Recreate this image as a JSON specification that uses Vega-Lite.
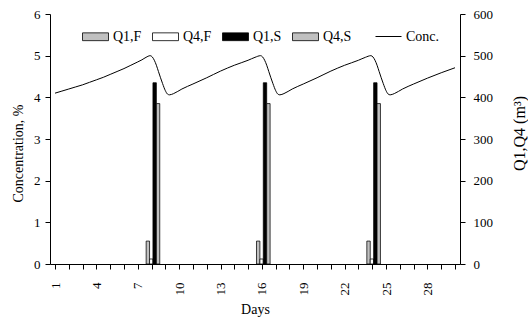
{
  "$schema": "https://vega.github.io/schema/vega-lite/v6.json",
  "width": 410,
  "height": 250,
  "autosize": {"type": "none"},
  "padding": {"left": 50, "top": 14, "right": 68, "bottom": 59},
  "background": "white",
  "config": {
    "font": "Liberation Serif",
    "view": {"stroke": null},
    "axis": {
      "domainColor": "black", "tickColor": "black", "labelColor": "black", "titleColor": "black",
      "labelFont": "Liberation Serif", "titleFont": "Liberation Serif",
      "labelFontSize": 13, "titleFontSize": 14, "titleFontWeight": "normal",
      "grid": false, "ticks": true, "tickSize": 5, "domainWidth": 1, "tickWidth": 1, "labelOverlap": false
    },
    "legend": {
      "labelFont": "Liberation Serif", "labelFontSize": 14, "labelColor": "black"
    }
  },
  "datasets": {
    "bars": [
      {"day": 8, "series": "Q1,F", "q": 55}, {"day": 8, "series": "Q4,F", "q": 12},
      {"day": 8, "series": "Q1,S", "q": 435}, {"day": 8, "series": "Q4,S", "q": 385},
      {"day": 16, "series": "Q1,F", "q": 55}, {"day": 16, "series": "Q4,F", "q": 12},
      {"day": 16, "series": "Q1,S", "q": 435}, {"day": 16, "series": "Q4,S", "q": 385},
      {"day": 24, "series": "Q1,F", "q": 55}, {"day": 24, "series": "Q4,F", "q": 12},
      {"day": 24, "series": "Q1,S", "q": 435}, {"day": 24, "series": "Q4,S", "q": 385}
    ]
  },
  "layer": [
    {
      "data": {"values": [
        {"day": 1, "conc": 4.10}, {"day": 1.5, "conc": 4.15}, {"day": 2, "conc": 4.20}, {"day": 2.5, "conc": 4.25},
        {"day": 3, "conc": 4.30}, {"day": 3.5, "conc": 4.36}, {"day": 4, "conc": 4.42}, {"day": 4.5, "conc": 4.48},
        {"day": 5, "conc": 4.55}, {"day": 5.5, "conc": 4.62}, {"day": 6, "conc": 4.69}, {"day": 6.5, "conc": 4.77},
        {"day": 7, "conc": 4.85}, {"day": 7.3, "conc": 4.90}, {"day": 7.6, "conc": 4.96}, {"day": 7.9, "conc": 5.00},
        {"day": 8.05, "conc": 4.97}, {"day": 8.2, "conc": 4.89}, {"day": 8.35, "conc": 4.77}, {"day": 8.5, "conc": 4.62},
        {"day": 8.65, "conc": 4.47}, {"day": 8.8, "conc": 4.33}, {"day": 9.0, "conc": 4.16}, {"day": 9.15, "conc": 4.08},
        {"day": 9.3, "conc": 4.06}, {"day": 9.6, "conc": 4.09}, {"day": 10.2, "conc": 4.20}, {"day": 11, "conc": 4.32},
        {"day": 12, "conc": 4.47}, {"day": 13, "conc": 4.63}, {"day": 14, "conc": 4.77}, {"day": 15, "conc": 4.89},
        {"day": 15.5, "conc": 4.96}, {"day": 15.9, "conc": 5.00},
        {"day": 16.05, "conc": 4.97}, {"day": 16.2, "conc": 4.89}, {"day": 16.35, "conc": 4.77}, {"day": 16.5, "conc": 4.62},
        {"day": 16.65, "conc": 4.47}, {"day": 16.8, "conc": 4.33}, {"day": 17.0, "conc": 4.16}, {"day": 17.15, "conc": 4.08},
        {"day": 17.3, "conc": 4.06}, {"day": 17.6, "conc": 4.09}, {"day": 18.2, "conc": 4.20}, {"day": 19, "conc": 4.32},
        {"day": 20, "conc": 4.47}, {"day": 21, "conc": 4.63}, {"day": 22, "conc": 4.77}, {"day": 23, "conc": 4.89},
        {"day": 23.5, "conc": 4.96}, {"day": 23.9, "conc": 5.00},
        {"day": 24.05, "conc": 4.97}, {"day": 24.2, "conc": 4.89}, {"day": 24.35, "conc": 4.77}, {"day": 24.5, "conc": 4.62},
        {"day": 24.65, "conc": 4.47}, {"day": 24.8, "conc": 4.33}, {"day": 25.0, "conc": 4.16}, {"day": 25.15, "conc": 4.08},
        {"day": 25.3, "conc": 4.06}, {"day": 25.6, "conc": 4.09}, {"day": 26.2, "conc": 4.20}, {"day": 27, "conc": 4.32},
        {"day": 28, "conc": 4.46}, {"day": 29, "conc": 4.59}, {"day": 30, "conc": 4.71}
      ]},
      "mark": {"type": "line", "strokeWidth": 1, "interpolate": "monotone"},
      "encoding": {
        "x": {
          "field": "day", "type": "quantitative",
          "scale": {"domain": [1, 30], "nice": false, "zero": false},
          "axis": {
            "values": [1,2,3,4,5,6,7,8,9,10,11,12,13,14,15,16,17,18,19,20,21,22,23,24,25,26,27,28,29,30],
            "labelExpr": "(datum.value - 1) % 3 === 0 ? datum.value : ''",
            "labelAngle": -90, "labelPadding": 13, "labelFlush": false, "labelOverlap": false,
            "title": "Days", "titlePadding": 7, "ticks": true,
            "encode": {"ticks": {"y2": {"value": -5}}}
          }
        },
        "y": {
          "field": "conc", "type": "quantitative",
          "scale": {"domain": [0, 6], "nice": false},
          "axis": {
            "orient": "left", "values": [0,1,2,3,4,5,6], "labelPadding": 5, "ticks": true, "tickSize": 5,
            "title": "Concentration, %", "titleX": -32, "titleY": 139, "titleAngle": -90,
            "titleAlign": "center", "titleBaseline": "middle", "titleFontSize": 14
          }
        },
        "stroke": {
          "datum": "Conc.", "type": "nominal",
          "scale": {"domain": ["Conc."], "range": ["#000000"]},
          "legend": {
            "title": null, "orient": "none", "legendX": 325, "legendY": 9,
            "direction": "horizontal", "symbolType": "stroke", "symbolSize": 676,
            "symbolStrokeWidth": 1, "labelOffset": 4
          }
        }
      }
    },
    {
      "data": {"name": "bars"},
      "encoding": {
        "x": {
          "field": "day", "type": "quantitative",
          "axis": {
            "values": [1,2,3,4,5,6,7,8,9,10,11,12,13,14,15,16,17,18,19,20,21,22,23,24,25,26,27,28,29,30],
            "labelExpr": "(datum.value - 1) % 3 === 0 ? datum.value : ''",
            "labelAngle": -90, "labelPadding": 13, "labelFlush": false, "labelOverlap": false,
            "title": "Days", "titlePadding": 7, "ticks": true,
            "encode": {"ticks": {"y2": {"value": -5}}}
          }
        },
        "y": {
          "field": "q", "type": "quantitative",
          "scale": {"domain": [0, 600], "nice": false},
          "axis": {
            "orient": "right", "values": [0,100,200,300,400,500,600], "labelPadding": 8, "ticks": true,
            "title": "Q1,Q4 (m³)", "titleX": 59, "titleY": 119, "titleAngle": -90,
            "titleAlign": "center", "titleBaseline": "middle", "titleFontSize": 16,
            "encode": {"ticks": {"x": {"value": -5}, "x2": {"value": 0}}}
          }
        },
        "fill": {
          "field": "series", "type": "nominal",
          "scale": {
            "domain": ["Q1,F", "Q4,F", "Q1,S", "Q4,S"],
            "range": ["#c0c0c0", "#ffffff", "#000000", "#c0c0c0"]
          },
          "legend": {
            "title": null, "orient": "none", "legendX": 32, "legendY": 9,
            "direction": "horizontal", "columns": 4, "gridAlign": "all", "columnPadding": 8,
            "symbolType": "M-1,-0.3H1V0.3H-1Z", "symbolSize": 676, "labelOffset": 4,
            "symbolStrokeColor": "black", "symbolStrokeWidth": 0.8, "symbolOpacity": 1
          }
        }
      },
      "layer": [
        {
          "transform": [{"filter": "datum.series === 'Q1,F'"}],
          "mark": {"type": "bar", "stroke": "black", "strokeWidth": 0.75, "width": 3.4, "xOffset": -3.7}
        },
        {
          "transform": [{"filter": "datum.series === 'Q4,F'"}],
          "mark": {"type": "bar", "stroke": "black", "strokeWidth": 0.75, "width": 3.4, "xOffset": -0.3}
        },
        {
          "transform": [{"filter": "datum.series === 'Q1,S'"}],
          "mark": {"type": "bar", "stroke": "black", "strokeWidth": 0.75, "width": 3.4, "xOffset": 3.1}
        },
        {
          "transform": [{"filter": "datum.series === 'Q4,S'"}],
          "mark": {"type": "bar", "stroke": "black", "strokeWidth": 0.75, "width": 3.4, "xOffset": 6.5}
        }
      ]
    }
  ],
  "resolve": {"scale": {"y": "independent"}}
}
